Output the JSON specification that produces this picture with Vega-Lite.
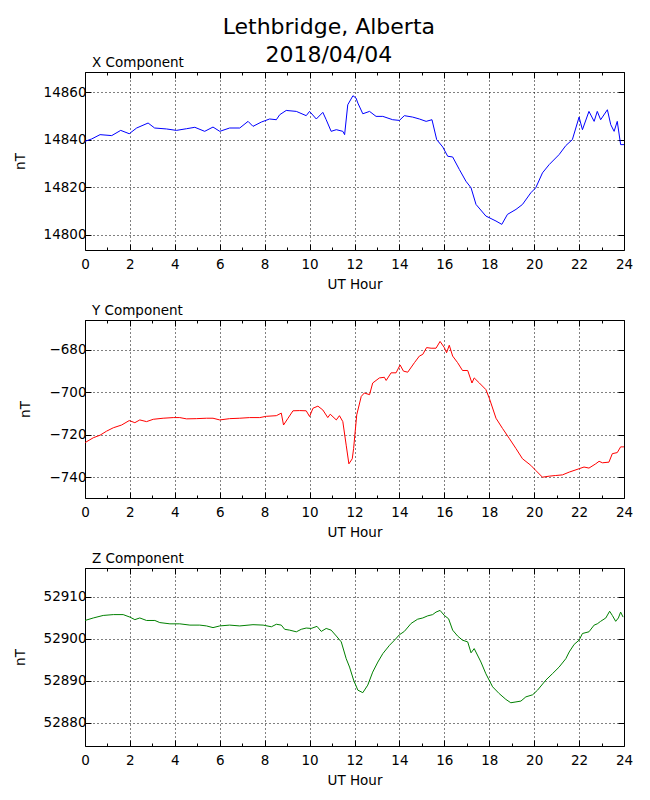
{
  "$schema": "https://vega.github.io/schema/vega-lite/v6.json",
  "background": "white",
  "padding": {"left": 12, "top": 15, "right": 0, "bottom": 0},
  "title": {
    "text": ["Lethbridge, Alberta", "2018/04/04"],
    "fontSize": 22,
    "fontWeight": "normal",
    "font": "DejaVu Sans",
    "color": "black",
    "anchor": "middle",
    "dx": 6,
    "lineHeight": 28,
    "offset": -11
  },
  "datasets": {
    "xcomp": [
      {"h": 0, "v": 14839.3}, {"h": 0.3, "v": 14840.3}, {"h": 0.67, "v": 14842.1}, {"h": 1.19, "v": 14841.7},
      {"h": 1.59, "v": 14843.9}, {"h": 1.97, "v": 14842.5}, {"h": 2.3, "v": 14844.9}, {"h": 2.81, "v": 14847},
      {"h": 3.1, "v": 14844.9}, {"h": 3.63, "v": 14844.5}, {"h": 4.07, "v": 14843.9}, {"h": 4.52, "v": 14844.6},
      {"h": 4.89, "v": 14845.2}, {"h": 5.33, "v": 14843.5}, {"h": 5.7, "v": 14845.3}, {"h": 6.0, "v": 14843.5},
      {"h": 6.44, "v": 14844.9}, {"h": 6.89, "v": 14844.9}, {"h": 7.26, "v": 14847.7}, {"h": 7.48, "v": 14845.6},
      {"h": 7.85, "v": 14847.4}, {"h": 8.22, "v": 14848.7}, {"h": 8.52, "v": 14848.4}, {"h": 8.67, "v": 14850.5},
      {"h": 8.96, "v": 14852.3}, {"h": 9.41, "v": 14851.9}, {"h": 9.85, "v": 14850.1}, {"h": 10.0, "v": 14851.9},
      {"h": 10.3, "v": 14848.7}, {"h": 10.59, "v": 14851.5}, {"h": 10.74, "v": 14848.4}, {"h": 10.96, "v": 14843.5},
      {"h": 11.19, "v": 14844.2}, {"h": 11.48, "v": 14843.5}, {"h": 11.56, "v": 14842.1}, {"h": 11.7, "v": 14854.7},
      {"h": 11.93, "v": 14858.5}, {"h": 12.07, "v": 14857.5}, {"h": 12.15, "v": 14855.4}, {"h": 12.37, "v": 14850.9},
      {"h": 12.67, "v": 14851.9}, {"h": 12.96, "v": 14849.8}, {"h": 13.26, "v": 14849.8}, {"h": 13.7, "v": 14848.4},
      {"h": 14.0, "v": 14848.1}, {"h": 14.22, "v": 14850.1}, {"h": 14.59, "v": 14849.5}, {"h": 14.89, "v": 14848.7},
      {"h": 15.19, "v": 14847.7}, {"h": 15.45, "v": 14848.4}, {"h": 15.66, "v": 14840}, {"h": 15.93, "v": 14836.9},
      {"h": 16.15, "v": 14833}, {"h": 16.37, "v": 14832.7}, {"h": 16.67, "v": 14827.4}, {"h": 16.96, "v": 14822.5},
      {"h": 17.19, "v": 14819.7}, {"h": 17.41, "v": 14812.7}, {"h": 17.85, "v": 14807.8}, {"h": 18.3, "v": 14805.7},
      {"h": 18.56, "v": 14804.3}, {"h": 18.81, "v": 14808.5}, {"h": 19.19, "v": 14810.6}, {"h": 19.48, "v": 14812.7},
      {"h": 19.85, "v": 14817.6}, {"h": 20.07, "v": 14819.7}, {"h": 20.37, "v": 14826}, {"h": 20.67, "v": 14829.5},
      {"h": 21.11, "v": 14833.7}, {"h": 21.41, "v": 14837.5}, {"h": 21.7, "v": 14840}, {"h": 22.0, "v": 14849.5},
      {"h": 22.15, "v": 14844.2}, {"h": 22.44, "v": 14851.9}, {"h": 22.67, "v": 14847.7}, {"h": 22.81, "v": 14851.9},
      {"h": 22.96, "v": 14848.4}, {"h": 23.26, "v": 14852.6}, {"h": 23.41, "v": 14846.3}, {"h": 23.56, "v": 14843.5},
      {"h": 23.7, "v": 14847.7}, {"h": 23.85, "v": 14837.9}, {"h": 24.0, "v": 14837.9}
    ],
    "ycomp": [
      {"h": 0, "v": -723.7}, {"h": 0.37, "v": -721.4}, {"h": 0.67, "v": -720.2}, {"h": 0.96, "v": -718.3},
      {"h": 1.26, "v": -716.7}, {"h": 1.63, "v": -715.4}, {"h": 1.97, "v": -713.3}, {"h": 2.22, "v": -714.3},
      {"h": 2.44, "v": -713}, {"h": 2.74, "v": -713.8}, {"h": 3.04, "v": -712.7}, {"h": 3.48, "v": -712.2},
      {"h": 3.93, "v": -711.9}, {"h": 4.22, "v": -711.9}, {"h": 4.52, "v": -712.5}, {"h": 4.96, "v": -712.4},
      {"h": 5.41, "v": -712.2}, {"h": 5.7, "v": -712.2}, {"h": 6.0, "v": -713}, {"h": 6.44, "v": -712.4},
      {"h": 6.89, "v": -712.2}, {"h": 7.33, "v": -711.9}, {"h": 7.78, "v": -711.9}, {"h": 8.07, "v": -711.3},
      {"h": 8.52, "v": -711}, {"h": 8.74, "v": -709.8}, {"h": 8.84, "v": -715.4}, {"h": 9.04, "v": -712.2},
      {"h": 9.26, "v": -708.7}, {"h": 9.56, "v": -708.6}, {"h": 9.85, "v": -708.7}, {"h": 10.0, "v": -711.4},
      {"h": 10.15, "v": -707.5}, {"h": 10.37, "v": -706.5}, {"h": 10.59, "v": -708.3}, {"h": 10.81, "v": -711.9},
      {"h": 10.92, "v": -710.3}, {"h": 11.19, "v": -713}, {"h": 11.33, "v": -711}, {"h": 11.48, "v": -713.8},
      {"h": 11.63, "v": -724.9}, {"h": 11.75, "v": -733.7}, {"h": 11.9, "v": -731.3}, {"h": 11.96, "v": -726.5},
      {"h": 12.1, "v": -710.6}, {"h": 12.3, "v": -701.9}, {"h": 12.44, "v": -700.3}, {"h": 12.67, "v": -701.1},
      {"h": 12.81, "v": -695.6}, {"h": 13.11, "v": -693.2}, {"h": 13.33, "v": -692.9}, {"h": 13.41, "v": -694.4},
      {"h": 13.63, "v": -690.8}, {"h": 13.85, "v": -690.8}, {"h": 14.03, "v": -687.1}, {"h": 14.18, "v": -690},
      {"h": 14.37, "v": -690.5}, {"h": 14.67, "v": -686}, {"h": 14.89, "v": -682.9}, {"h": 15.04, "v": -682.1},
      {"h": 15.21, "v": -678.9}, {"h": 15.41, "v": -679.2}, {"h": 15.63, "v": -679.2}, {"h": 15.81, "v": -676},
      {"h": 16.0, "v": -678.9}, {"h": 16.1, "v": -681.3}, {"h": 16.22, "v": -677.8}, {"h": 16.37, "v": -682.9},
      {"h": 16.59, "v": -686}, {"h": 16.81, "v": -689.7}, {"h": 17.04, "v": -689.7}, {"h": 17.23, "v": -695.6},
      {"h": 17.33, "v": -693.2}, {"h": 17.56, "v": -695.6}, {"h": 17.85, "v": -698.7}, {"h": 18.0, "v": -702.7},
      {"h": 18.3, "v": -712.2}, {"h": 18.59, "v": -717}, {"h": 18.89, "v": -721.7}, {"h": 19.19, "v": -726.5},
      {"h": 19.48, "v": -731.3}, {"h": 19.85, "v": -734.4}, {"h": 20.07, "v": -736.8}, {"h": 20.37, "v": -740},
      {"h": 20.67, "v": -739.5}, {"h": 20.96, "v": -739.2}, {"h": 21.26, "v": -738.9}, {"h": 21.56, "v": -737.6},
      {"h": 22.0, "v": -736}, {"h": 22.22, "v": -735.2}, {"h": 22.44, "v": -735.7}, {"h": 22.74, "v": -733.7},
      {"h": 22.89, "v": -732.5}, {"h": 23.04, "v": -733.2}, {"h": 23.33, "v": -732.9}, {"h": 23.48, "v": -728.9},
      {"h": 23.7, "v": -728.4}, {"h": 23.85, "v": -725.7}, {"h": 24.0, "v": -725.7}
    ],
    "zcomp": [
      {"h": 0, "v": 52904.4}, {"h": 0.37, "v": 52905}, {"h": 0.81, "v": 52905.6}, {"h": 1.26, "v": 52905.8},
      {"h": 1.7, "v": 52905.8}, {"h": 2.0, "v": 52905.2}, {"h": 2.22, "v": 52904.6}, {"h": 2.44, "v": 52905},
      {"h": 2.74, "v": 52904.4}, {"h": 3.11, "v": 52904.4}, {"h": 3.33, "v": 52903.9}, {"h": 3.78, "v": 52903.6},
      {"h": 4.22, "v": 52903.6}, {"h": 4.67, "v": 52903.3}, {"h": 5.11, "v": 52903.3}, {"h": 5.41, "v": 52903.1},
      {"h": 5.7, "v": 52902.7}, {"h": 6.0, "v": 52903.1}, {"h": 6.44, "v": 52903.3}, {"h": 6.89, "v": 52903.1},
      {"h": 7.48, "v": 52903.4}, {"h": 7.93, "v": 52903.3}, {"h": 8.3, "v": 52902.9}, {"h": 8.52, "v": 52903.5},
      {"h": 8.74, "v": 52903.3}, {"h": 8.89, "v": 52902.3}, {"h": 9.11, "v": 52902.1}, {"h": 9.41, "v": 52901.7},
      {"h": 9.63, "v": 52902.3}, {"h": 9.85, "v": 52902.6}, {"h": 10.07, "v": 52902.5}, {"h": 10.33, "v": 52903},
      {"h": 10.52, "v": 52901.8}, {"h": 10.74, "v": 52902.5}, {"h": 10.96, "v": 52902.1}, {"h": 11.19, "v": 52900.7},
      {"h": 11.41, "v": 52899.3}, {"h": 11.63, "v": 52895.3}, {"h": 11.78, "v": 52893.3}, {"h": 11.96, "v": 52890.2},
      {"h": 12.15, "v": 52887.8}, {"h": 12.37, "v": 52887.2}, {"h": 12.59, "v": 52889}, {"h": 12.81, "v": 52892.1},
      {"h": 13.04, "v": 52894.5}, {"h": 13.26, "v": 52896.5}, {"h": 13.56, "v": 52898.5}, {"h": 13.78, "v": 52899.7},
      {"h": 14.0, "v": 52901}, {"h": 14.22, "v": 52901.8}, {"h": 14.52, "v": 52903.7}, {"h": 14.81, "v": 52904.7},
      {"h": 15.04, "v": 52905}, {"h": 15.26, "v": 52905.5}, {"h": 15.48, "v": 52905.8}, {"h": 15.63, "v": 52906.4},
      {"h": 15.81, "v": 52906.8}, {"h": 16.0, "v": 52905.6}, {"h": 16.19, "v": 52904.8}, {"h": 16.37, "v": 52902.1},
      {"h": 16.59, "v": 52900.7}, {"h": 16.81, "v": 52899.7}, {"h": 17.04, "v": 52899.3}, {"h": 17.19, "v": 52896.7},
      {"h": 17.33, "v": 52897.7}, {"h": 17.63, "v": 52894.5}, {"h": 17.85, "v": 52891.7}, {"h": 18.15, "v": 52888.6},
      {"h": 18.44, "v": 52887}, {"h": 18.74, "v": 52885.6}, {"h": 18.96, "v": 52884.8}, {"h": 19.19, "v": 52885},
      {"h": 19.41, "v": 52885.2}, {"h": 19.63, "v": 52886.2}, {"h": 19.93, "v": 52886.7}, {"h": 20.15, "v": 52887.8},
      {"h": 20.52, "v": 52890.2}, {"h": 20.81, "v": 52891.7}, {"h": 21.11, "v": 52893.3}, {"h": 21.41, "v": 52895.3},
      {"h": 21.56, "v": 52896.9}, {"h": 21.78, "v": 52898.7}, {"h": 22.0, "v": 52899.7}, {"h": 22.15, "v": 52901.3},
      {"h": 22.44, "v": 52901.7}, {"h": 22.67, "v": 52903.3}, {"h": 22.81, "v": 52903.6}, {"h": 22.96, "v": 52904.2},
      {"h": 23.19, "v": 52905}, {"h": 23.36, "v": 52906.6}, {"h": 23.48, "v": 52905.6}, {"h": 23.63, "v": 52904.2},
      {"h": 23.75, "v": 52905}, {"h": 23.85, "v": 52906.4}, {"h": 23.96, "v": 52905.2}
    ]
  },
  "spacing": 11,
  "vconcat": [
    {
      "title": {"text": "X Component", "anchor": "start", "frame": "group", "dx": 7, "fontSize": 13.5, "fontWeight": "normal", "color": "black", "offset": 2},
      "width": 539,
      "height": 178,
      "data": {"name": "xcomp"},
      "layer": [
        {
          "mark": {"type": "line", "color": "#0000ff", "strokeWidth": 1},
          "encoding": {
            "x": {"field": "h", "type": "quantitative", "scale": {"domain": [0, 24], "nice": false},
              "axis": {"title": "UT Hour", "values": [0,1,2,3,4,5,6,7,8,9,10,11,12,13,14,15,16,17,18,19,20,21,22,23,24],
                "labelExpr": "datum.value % 2 === 0 ? datum.label : ''",
                "tickSize": {"condition": {"test": "datum.value % 2 === 0", "value": -6}, "value": -3},
                "gridOpacity": {"condition": {"test": "datum.value % 2 === 0", "value": 1}, "value": 0}}},
            "y": {"field": "v", "type": "quantitative", "scale": {"domain": [14793.5, 14868.5], "nice": false, "zero": false},
              "axis": {"title": "nT", "values": [14800, 14820, 14840, 14860], "format": "d"}}
          }
        },
        {
          "mark": {"type": "line", "strokeOpacity": 0},
          "encoding": {
            "x": {"field": "h", "type": "quantitative", "scale": {"domain": [0, 24], "nice": false},
              "axis": {"orient": "top", "title": null, "labels": false, "grid": false,
                "values": [0,1,2,3,4,5,6,7,8,9,10,11,12,13,14,15,16,17,18,19,20,21,22,23,24],
                "tickSize": {"condition": {"test": "datum.value % 2 === 0", "value": -6}, "value": -3}}},
            "y": {"field": "v", "type": "quantitative", "scale": {"domain": [14793.5, 14868.5], "nice": false, "zero": false},
              "axis": {"orient": "right", "title": null, "labels": false, "grid": false, "values": [14800, 14820, 14840, 14860]}}
          }
        }
      ],
      "resolve": {"axis": {"x": "independent", "y": "independent"}}
    },
    {
      "title": {"text": "Y Component", "anchor": "start", "frame": "group", "dx": 7, "fontSize": 13.5, "fontWeight": "normal", "color": "black", "offset": 2},
      "width": 539,
      "height": 178,
      "data": {"name": "ycomp"},
      "layer": [
        {
          "mark": {"type": "line", "color": "#ff0000", "strokeWidth": 1},
          "encoding": {
            "x": {"field": "h", "type": "quantitative", "scale": {"domain": [0, 24], "nice": false},
              "axis": {"title": "UT Hour", "values": [0,1,2,3,4,5,6,7,8,9,10,11,12,13,14,15,16,17,18,19,20,21,22,23,24],
                "labelExpr": "datum.value % 2 === 0 ? datum.label : ''",
                "tickSize": {"condition": {"test": "datum.value % 2 === 0", "value": -6}, "value": -3},
                "gridOpacity": {"condition": {"test": "datum.value % 2 === 0", "value": 1}, "value": 0}}},
            "y": {"field": "v", "type": "quantitative", "scale": {"domain": [-749.8, -665.9], "nice": false, "zero": false},
              "axis": {"title": "nT", "values": [-740, -720, -700, -680], "format": "d"}}
          }
        },
        {
          "mark": {"type": "line", "strokeOpacity": 0},
          "encoding": {
            "x": {"field": "h", "type": "quantitative", "scale": {"domain": [0, 24], "nice": false},
              "axis": {"orient": "top", "title": null, "labels": false, "grid": false,
                "values": [0,1,2,3,4,5,6,7,8,9,10,11,12,13,14,15,16,17,18,19,20,21,22,23,24],
                "tickSize": {"condition": {"test": "datum.value % 2 === 0", "value": -6}, "value": -3}}},
            "y": {"field": "v", "type": "quantitative", "scale": {"domain": [-749.8, -665.9], "nice": false, "zero": false},
              "axis": {"orient": "right", "title": null, "labels": false, "grid": false, "values": [-740, -720, -700, -680]}}
          }
        }
      ],
      "resolve": {"axis": {"x": "independent", "y": "independent"}}
    },
    {
      "title": {"text": "Z Component", "anchor": "start", "frame": "group", "dx": 7, "fontSize": 13.5, "fontWeight": "normal", "color": "black", "offset": 2},
      "width": 539,
      "height": 178,
      "data": {"name": "zcomp"},
      "layer": [
        {
          "mark": {"type": "line", "color": "#008000", "strokeWidth": 1},
          "encoding": {
            "x": {"field": "h", "type": "quantitative", "scale": {"domain": [0, 24], "nice": false},
              "axis": {"title": "UT Hour", "values": [0,1,2,3,4,5,6,7,8,9,10,11,12,13,14,15,16,17,18,19,20,21,22,23,24],
                "labelExpr": "datum.value % 2 === 0 ? datum.label : ''",
                "tickSize": {"condition": {"test": "datum.value % 2 === 0", "value": -6}, "value": -3},
                "gridOpacity": {"condition": {"test": "datum.value % 2 === 0", "value": 1}, "value": 0}}},
            "y": {"field": "v", "type": "quantitative", "scale": {"domain": [52874.5, 52916.9], "nice": false, "zero": false},
              "axis": {"title": "nT", "values": [52880, 52890, 52900, 52910], "format": "d"}}
          }
        },
        {
          "mark": {"type": "line", "strokeOpacity": 0},
          "encoding": {
            "x": {"field": "h", "type": "quantitative", "scale": {"domain": [0, 24], "nice": false},
              "axis": {"orient": "top", "title": null, "labels": false, "grid": false,
                "values": [0,1,2,3,4,5,6,7,8,9,10,11,12,13,14,15,16,17,18,19,20,21,22,23,24],
                "tickSize": {"condition": {"test": "datum.value % 2 === 0", "value": -6}, "value": -3}}},
            "y": {"field": "v", "type": "quantitative", "scale": {"domain": [52874.5, 52916.9], "nice": false, "zero": false},
              "axis": {"orient": "right", "title": null, "labels": false, "grid": false, "values": [52880, 52890, 52900, 52910]}}
          }
        }
      ],
      "resolve": {"axis": {"x": "independent", "y": "independent"}}
    }
  ],
  "config": {
    "font": "DejaVu Sans",
    "view": {"stroke": "black", "strokeWidth": 1},
    "axis": {
      "labelFont": "DejaVu Sans",
      "labelFontSize": 13.5,
      "labelColor": "black",
      "titleFont": "DejaVu Sans",
      "titleFontSize": 13.5,
      "titleFontWeight": "normal",
      "titleColor": "black",
      "domain": false,
      "tickColor": "black",
      "tickWidth": 1,
      "gridColor": "black",
      "gridDash": [1, 3],
      "gridWidth": 1
    },
    "axisY": {"tickSize": -6, "labelPadding": 5, "titlePadding": 16},
    "axisX": {"labelPadding": 13, "titlePadding": 7, "labelFlush": false}
  }
}
